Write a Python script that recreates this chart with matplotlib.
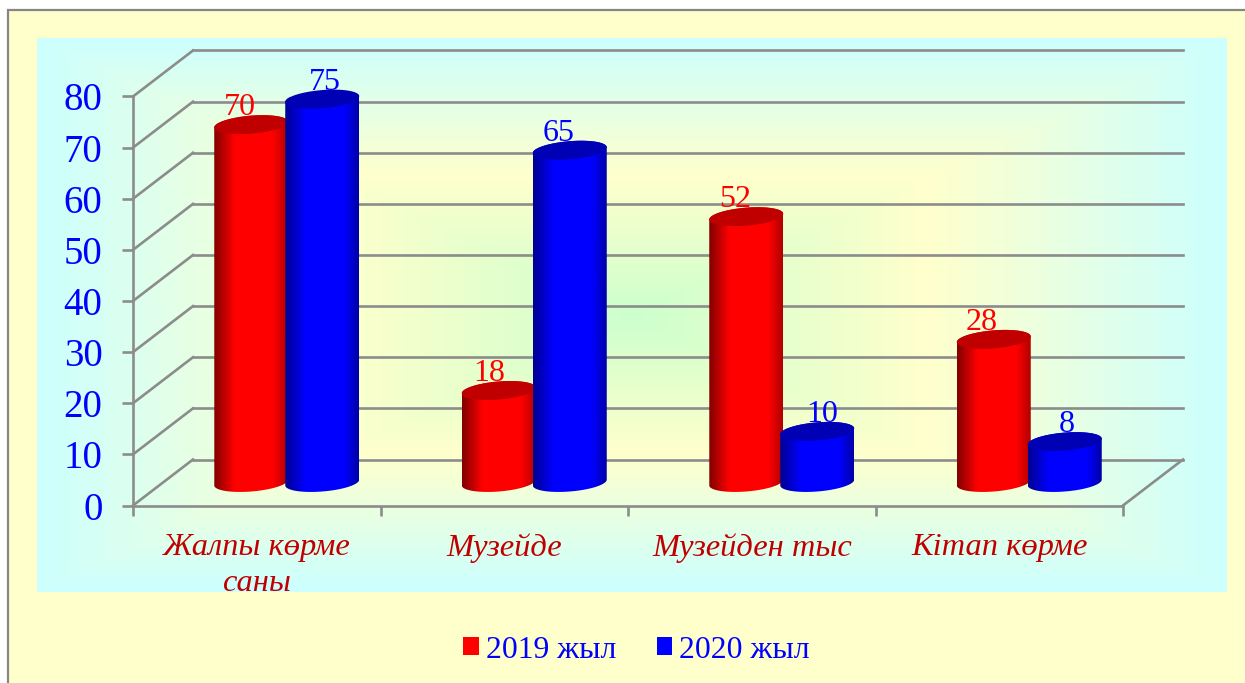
import numpy as np
import matplotlib
matplotlib.use('Agg')
import matplotlib.pyplot as plt
from matplotlib.colors import LinearSegmentedColormap
from matplotlib.patches import Patch, Rectangle, Polygon
from matplotlib.path import Path
from matplotlib.transforms import Affine2D, IdentityTransform

plt.rcParams['font.family'] = ['Liberation Serif', 'DejaVu Serif']

# ---------------------------------------------------------------------------- #
# Data
categories = ['Жалпы көрме\nсаны', 'Музейде', 'Музейден тыс', 'Кітап көрме']
series_names = ['2019 жыл', '2020 жыл']
values_2019 = [70, 18, 52, 28]
values_2020 = [75, 65, 10, 8]
yticks = [0, 10, 20, 30, 40, 50, 60, 70, 80]

# ---------------------------------------------------------------------------- #
# Layout, in pixels of the 1245x683 picture
W, H = 1245, 683
DEPTH_X, DEPTH_Y = 60, 46
GRAY = '#8C8C8C'
LW = 1.9

fig = plt.figure(figsize=(W/100, H/100), dpi=100, facecolor='white')

# background layer, y runs downwards like the picture
bg = fig.add_axes([0, 0, 1, 1], zorder=0)
bg.set_xlim(0, W)
bg.set_ylim(H, 0)
bg.axis('off')
bg.add_patch(Rectangle((8, 10), W, H, fc='#FFFFCC', ec='#868686', lw=1.6, zorder=1))

# plot area fill: green centre, yellow middle, cyan edge
cmap_bg = LinearSegmentedColormap.from_list('bg', [(0, '#CCFFCC'), (0.5, '#FFFFCC'), (1, '#CCFFFF')])
gx, gy = np.meshgrid(np.linspace(-1, 1, 595), np.linspace(-1, 1, 277))
grad = np.maximum(np.abs(gx), np.abs(gy))
bg.imshow(grad, cmap=cmap_bg, vmin=0, vmax=1, extent=(37, 1227, 592, 38), aspect='auto',
          interpolation='bilinear', zorder=2)
bg.set_xlim(0, W)
bg.set_ylim(H, 0)

# front plane of the 3D box carries the real scales
ax = fig.add_axes([133/W, (H-505.5)/H, 990/W, 409/H], zorder=1)
ax.patch.set_alpha(0)
ax.set_xlim(0, 4)
ax.set_ylim(0, 80)
for s in ['top', 'right']:
    ax.spines[s].set_visible(False)
for s in ['left', 'bottom']:
    ax.spines[s].set_color(GRAY)
    ax.spines[s].set_linewidth(LW)
ax.set_yticks(yticks)
ax.set_yticklabels([str(v) for v in yticks], fontsize=28, color='#0000FF')
ax.tick_params(axis='y', length=8, width=LW, color=GRAY, pad=14)
ax.set_xticks(range(5))
ax.set_xticklabels([])
ax.tick_params(axis='x', which='major', length=7, width=LW, color=GRAY)
ax.set_xticks(np.arange(4) + 0.5, minor=True)
ax.set_xticklabels(categories, minor=True, fontsize=23.4, style='italic', color='#C00000', linespacing=1.3)
ax.tick_params(axis='x', which='minor', length=0, pad=20)

# back wall gridlines and side wall diagonals
back = ax.transData + Affine2D().translate(DEPTH_X, DEPTH_Y)
for v in yticks:
    ax.plot([0, 4], [v, v], color=GRAY, lw=LW, transform=back, clip_on=False, zorder=1)
    x0, y0 = ax.transData.transform((0, v))
    ax.plot([x0, x0+DEPTH_X], [y0, y0+DEPTH_Y], color=GRAY, lw=LW, transform=IdentityTransform(), clip_on=False, zorder=1)
x0, y0 = ax.transData.transform((4, 0))
ax.plot([x0, x0+DEPTH_X], [y0, y0+DEPTH_Y], color=GRAY, lw=LW, transform=IdentityTransform(), clip_on=False, zorder=1)

# ---------------------------------------------------------------------------- #
# Cylinders
cmap_red = LinearSegmentedColormap.from_list('r', [(0, '#800000'), (0.28, '#FF0000'), (0.8, '#FF0000'), (1, '#B00000')])
cmap_blue = LinearSegmentedColormap.from_list('b', [(0, '#000090'), (0.28, '#0000FF'), (0.8, '#0000FF'), (1, '#0000A8')])
BAR_HALF = 37
ELL_B = 9
ELL_S = 0.078
t = np.linspace(0, 2*np.pi, 121)


def ellipse(cx, cy):
    return cx + BAR_HALF*np.cos(t), cy + ELL_B*np.sin(t) + ELL_S*BAR_HALF*np.cos(t)


def cylinder(xc, v, cmap, cap, z):
    # xc, v in data units, pushed half way into the box
    px, top = ax.transData.transform((xc, v))
    px += DEPTH_X/2
    top += DEPTH_Y/2
    _, base = ax.transData.transform((xc, 0))
    base += DEPTH_Y/2
    ex, ey = ellipse(px, base)
    lower = np.sin(t) <= 0
    order = np.argsort(ex[lower])
    bx, by = ex[lower][order], ey[lower][order]
    tx, ty = ellipse(px, top)
    upper = np.sin(t) >= 0
    order = np.argsort(tx[upper])[::-1]
    side = np.column_stack((np.r_[bx, tx[upper][order]], np.r_[by, ty[upper][order]]))
    im = ax.imshow(np.linspace(0, 1, 256)[None, :], cmap=cmap, aspect='auto', interpolation='bilinear',
                   extent=(px-BAR_HALF, px+BAR_HALF, base-12, top+12),
                   transform=IdentityTransform(), zorder=z, clip_on=True)
    im.set_clip_path(Path(np.vstack((side, side[0]))), IdentityTransform())
    ax.add_patch(Polygon(np.column_stack((tx, ty)), closed=True, fc=cap, ec='none',
                         transform=IdentityTransform(), clip_on=False, zorder=z+0.1))
    return px, top + ELL_B


# label shifts from the bar centre, as they sit in the picture (pixels)
shift_2019 = [-11, -10, -11, -12]
shift_2020 = [3, -11, 5, 2]
step = 35.5/247.5

for i in range(len(categories)):
    for xc, v, cmap, cap, col, sh, z in [
            (i+0.5-step, values_2019[i], cmap_red, '#C00000', '#FF0000', shift_2019[i], 3+i),
            (i+0.5+step, values_2020[i], cmap_blue, '#0000B4', '#0000FF', shift_2020[i], 3.5+i)]:
        px, ptop = cylinder(xc, v, cmap, cap, z)
        ax.text(px+sh, ptop+0.5, str(v), color=col, fontsize=23, ha='center', va='baseline',
                transform=IdentityTransform(), zorder=10)

ax.set_xlim(0, 4)
ax.set_ylim(0, 80)
ax.set_aspect('auto')

handles = [Patch(fc='#FF0000', ec='none', label=series_names[0]), Patch(fc='#0000FF', ec='none', label=series_names[1])]
fig.legend(handles=handles, loc='center', bbox_to_anchor=(636.5/W, 1-650/H), ncol=2, frameon=False,
           fontsize=22.9, handlelength=0.5, handleheight=0.5, handletextpad=0.22, columnspacing=1.27,
           labelcolor='#0000FF', borderpad=0)

fig.savefig('out.png', dpi=100, facecolor='white')
